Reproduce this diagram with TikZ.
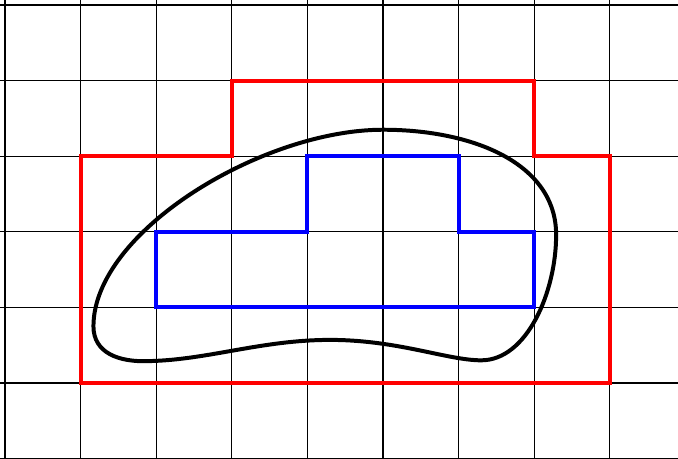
\documentclass[tikz,border=0pt]{standalone}
\usepackage{xcolor}
\usepackage{tikz}
\definecolor{outerR}{HTML}{FF0000}
\definecolor{innerB}{HTML}{0000FF}

\begin{document}
\begin{tikzpicture}[line join=miter]
\clip (-0.066,0) rectangle (8.902,6.066);
\draw[thin, step=1] (-1,-1) grid (10,7);
\draw[line width=1.5pt, outerR] (1,1) -- (1,4) -- (3,4) -- (3,5) -- (7,5) -- (7,4) -- (8,4) -- (8,1) -- cycle;
\draw[line width=1.5pt, innerB] (2,2) -- (2,3) -- (4,3) -- (4,4) -- (6,4) -- (6,3) -- (7,3) -- (7,2) -- cycle;
\draw[line width=1.5pt] (1.17,1.75) .. controls (1.17,1.4) and (1.5,1.27) .. (1.92,1.29)
  .. controls (2.7,1.31) and (3.4,1.57) .. (4.3,1.57)
  .. controls (5.2,1.57) and (5.85,1.30) .. (6.3,1.30)
  .. controls (6.9,1.30) and (7.29,2.2) .. (7.29,2.96)
  .. controls (7.29,3.9) and (6.2,4.35) .. (5.0,4.35)
  .. controls (3.4,4.35) and (1.17,3.0) .. cycle;
\end{tikzpicture}
\end{document}
